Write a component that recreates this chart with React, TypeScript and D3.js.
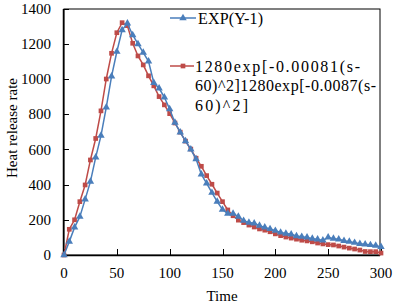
import React from "react";
import * as d3 from "d3";

const times = d3.range(0, 301, 5);
const expValues = [0, 76, 157, 218, 316, 417, 555, 678, 839, 1015, 1155, 1278, 1316, 1250, 1199, 1150, 1100, 978, 947, 896, 829, 752, 697, 647, 600, 545, 458, 407, 354, 303, 258, 235, 235, 218, 195, 184, 180, 167, 157, 148, 138, 128, 122, 118, 108, 104, 100, 93, 89, 83, 100, 93, 89, 81, 76, 70, 64, 61, 57, 53, 47];
const fitValues = [0, 146, 200, 303, 398, 540, 662, 819, 1000, 1146, 1263, 1320, 1303, 1203, 1131, 1080, 1018, 961, 900, 853, 803, 750, 698, 647, 602, 550, 504, 451, 402, 352, 303, 256, 223, 198, 184, 170, 159, 148, 141, 132, 120, 110, 102, 96, 90, 84, 80, 75, 68, 63, 59, 57, 51, 45, 39, 34, 28, 20, 19, 19, 11];
const xTicks = [0, 50, 100, 150, 200, 250, 300];
const yTicks = [0, 200, 400, 600, 800, 1000, 1200, 1400];
const legend1 = "EXP(Y-1)";
const legend2Lines = ["1280exp[-0.00081(s-", "60)^2]1280exp[-0.0087(s-", "60)^2]"];
const legend2Widths = [165, 181, 53];

const BLUE = "#4A7EBB";
const RED = "#BE4B48";
const FONT = "Times New Roman, Liberation Serif, DejaVu Serif, serif";

export default function App() {
  const W = 394, H = 305;
  const left = 64, right = 380, top = 9, bottom = 255;
  const x = d3.scaleLinear().domain([0, 300]).range([left, 381]);
  const y = d3.scaleLinear().domain([0, 1400]).range([bottom, 8.6]);
  const line = d3.line<number>().x((_, i) => x(times[i])).y((d) => y(d));
  const tri = d3.symbol().type(d3.symbolTriangle).size(24)();
  const sq = d3.symbol().type(d3.symbolSquare).size(22)();
  const txt = { fontFamily: FONT, fontSize: 15, fill: "#000" } as React.CSSProperties;
  const legTxt = { fontFamily: FONT, fontSize: 16, fill: "#000" } as React.CSSProperties;

  return (
    <svg width={W} height={H} style={{ position: "absolute", left: 0, top: 0, background: "#fff" }}>
      <rect x={0} y={0} width={W} height={H} fill="#fff" />
      <rect x={left} y={top} width={right - left} height={bottom - top} fill="none" stroke="#000" strokeWidth={1} />
      {yTicks.map((t) => (
        <g key={"y" + t}>
          <line x1={left} x2={left + 5} y1={Math.round(y(t)) + 0.5} y2={Math.round(y(t)) + 0.5} stroke="#000" />
          <text x={51} y={y(t)} dy="0.35em" textAnchor="end" style={txt}>{t}</text>
        </g>
      ))}
      {xTicks.map((t) => (
        <g key={"x" + t}>
          <line x1={Math.round(x(t)) + 0.5} x2={Math.round(x(t)) + 0.5} y1={bottom} y2={bottom - 6} stroke="#000" />
          <text x={x(t)} y={278} textAnchor="middle" style={txt}>{t}</text>
        </g>
      ))}
      <line x1={left} x2={right} y1={bottom + 0.5} y2={bottom + 0.5} stroke="#000" strokeWidth={1.5} />
      <line x1={left - 0.5} x2={left - 0.5} y1={top} y2={bottom} stroke="#000" strokeWidth={1.5} />
      <text x={222} y={301} textAnchor="middle" style={txt}>Time</text>
      <text transform="translate(12,128) rotate(-90)" textAnchor="middle" dy="0.35em" style={txt}>Heat release rate</text>

      <path d={line(fitValues) || ""} fill="none" stroke={RED} strokeWidth={1.5} />
      {fitValues.map((v, i) => (
        <path key={"r" + i} d={sq || ""} transform={`translate(${x(times[i])},${y(v)})`} fill={RED} />
      ))}
      <path d={line(expValues) || ""} fill="none" stroke={BLUE} strokeWidth={1.5} />
      {expValues.map((v, i) => (
        <path key={"b" + i} d={tri || ""} transform={`translate(${x(times[i])},${y(v)})`} fill={BLUE} />
      ))}

      <line x1={170} x2={196} y1={18} y2={18} stroke={BLUE} strokeWidth={1.5} />
      <path d={tri || ""} transform="translate(183,18)" fill={BLUE} />
      <text x={198} y={18} dy="0.35em" textLength={65} lengthAdjust="spacing" style={legTxt}>{legend1}</text>
      <line x1={170} x2={194} y1={66} y2={66} stroke={RED} strokeWidth={1.5} />
      <path d={sq || ""} transform="translate(183,66)" fill={RED} />
      {legend2Lines.map((s, i) => (
        <text key={"l" + i} x={195} y={66 + i * 19.5} dy="0.35em" textLength={legend2Widths[i]} lengthAdjust="spacing" style={legTxt}>{s}</text>
      ))}
    </svg>
  );
}
